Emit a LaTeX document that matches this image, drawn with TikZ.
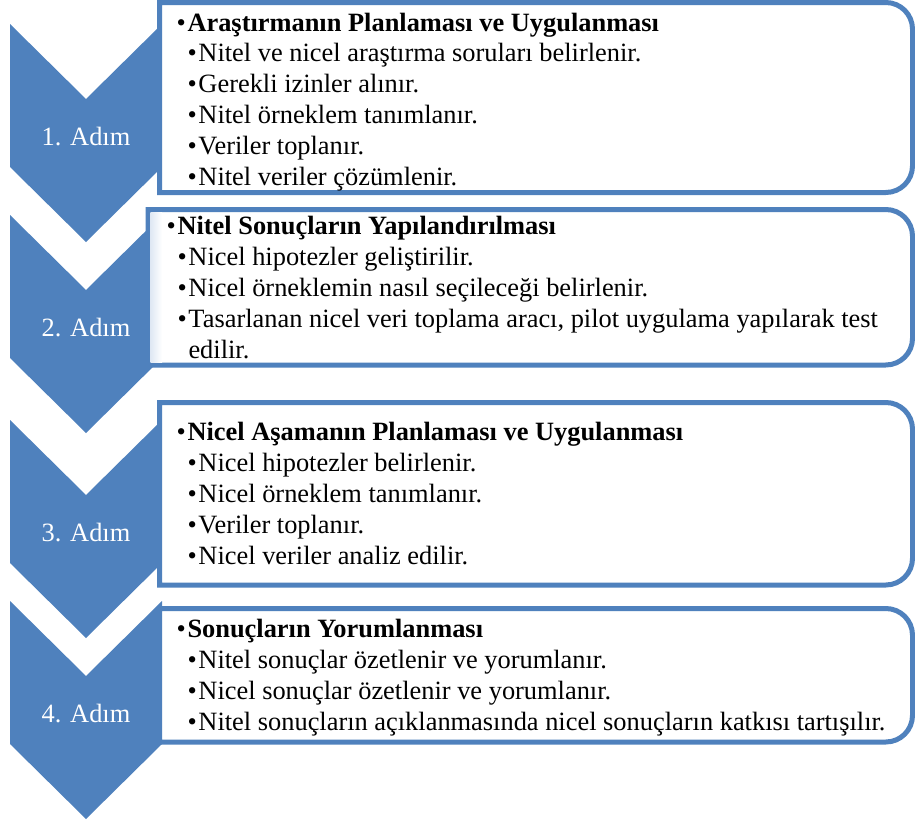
\documentclass[tikz,border=0pt]{standalone}
\usepackage{fontspec}
\setmainfont{Liberation Serif}
\definecolor{chevronblue}{RGB}{79,129,189}
\tikzset{every picture/.style={line width=0.75pt}}
\tikzset{
  chevron/.style={fill=chevronblue, draw=none},
  boxline/.style={draw=chevronblue, line width=3.75pt, fill=white},
  steplabel/.style={text=white, inner sep=0pt, font=\fontsize{19.8}{23}\selectfont},
  boxtext/.style={anchor=base west, align=left, inner sep=0pt, font=\fontsize{19.8}{23.1}\selectfont},
}
\newcommand{\titleline}[1]{\makebox[8.25pt][l]{•}\textbf{#1}}
\newcommand{\itemline}[1]{\hspace*{8.25pt}\makebox[8.25pt][l]{•}#1}
\newcommand{\stepbox}[3]{%
  \draw[boxline] (#1,#2) -- (700,#2) [rounded corners=20pt] -- (912.5,#2) -- (912.5,#3) -- (700,#3) [sharp corners] -- (#1,#3) -- cycle;}

\begin{document}
\begin{tikzpicture}[x=0.75pt,y=0.75pt,yscale=-1,xscale=1]
\path[use as bounding box] (0,0) rectangle (915,821);

%Shape: Chevrons and step labels
\foreach \cy/\lab in {24/1, 215/2, 420/3, 601/4}{
  \fill[chevron] (10,\cy) -- (86,\cy+75) -- (162,\cy) -- (162,\cy+143) -- (86,\cy+218) -- (10,\cy+143) -- cycle;
  \node[steplabel] (adim\lab) at (86,\cy+112.5) {\lab. Adım};
}

%Shape: Boxes
\stepbox{159.5}{2.5}{192.5}
\stepbox{148}{209.5}{365}
\stepbox{159.5}{402.5}{585}
\stepbox{159.5}{608.5}{742}
% faint shade inside box 2
\shade[left color=chevronblue!18, right color=white] (150.5,212) rectangle (162,362.5);

% Text Node (base = last line)
\node[boxtext] (planlama) at (176,185) {\titleline{Araştırmanın Planlaması ve Uygulanması}\\
  \itemline{Nitel ve nicel araştırma soruları belirlenir.}\\
  \itemline{Gerekli izinler alınır.}\\
  \itemline{Nitel örneklem tanımlanır.}\\
  \itemline{Veriler toplanır.}\\
  \itemline{Nitel veriler çözümlenir.}};
% Text Node
\node[boxtext] (yapilandirma) at (166,358) {\titleline{Nitel Sonuçların Yapılandırılması}\\
  \itemline{Nicel hipotezler geliştirilir.}\\
  \itemline{Nicel örneklemin nasıl seçileceği belirlenir.}\\
  \itemline{Tasarlanan nicel veri toplama aracı, pilot uygulama yapılarak test}\\
  \hspace*{16.5pt}edilir.};
% Text Node
\node[boxtext] (nicelasama) at (176,564) {\titleline{Nicel Aşamanın Planlaması ve Uygulanması}\\
  \itemline{Nicel hipotezler belirlenir.}\\
  \itemline{Nicel örneklem tanımlanır.}\\
  \itemline{Veriler toplanır.}\\
  \itemline{Nicel veriler analiz edilir.}};
% Text Node
\node[boxtext] (yorumlama) at (176,730) {\titleline{Sonuçların Yorumlanması}\\
  \itemline{Nitel sonuçlar özetlenir ve yorumlanır.}\\
  \itemline{Nicel sonuçlar özetlenir ve yorumlanır.}\\
  \itemline{Nitel sonuçların açıklanmasında nicel sonuçların katkısı tartışılır.}};
\end{tikzpicture}
\end{document}
